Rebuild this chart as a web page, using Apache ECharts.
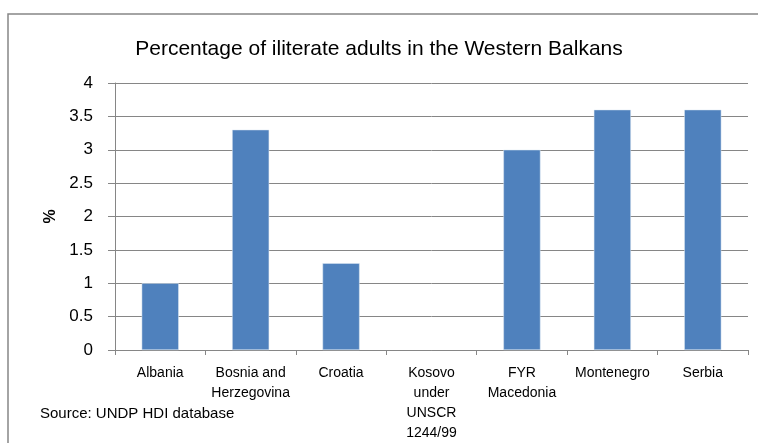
<!DOCTYPE html>
<html>
<head>
<meta charset="utf-8">
<script src="https://cdn.jsdelivr.net/npm/echarts@6/dist/echarts.min.js"></script>
<style>
  html, body { margin: 0; padding: 0; background: #fff; }
  #chart { width: 758px; height: 443px; }
</style>
</head>
<body>
<div id="chart"></div>
<script>
// Adult illiteracy rates, Western Balkans (UNDP HDI)
const categories = ['Albania', 'Bosnia and\nHerzegovina', 'Croatia', 'Kosovo\nunder\nUNSCR\n1244/99', 'FYR\nMacedonia', 'Montenegro', 'Serbia'];
const illiteracy = [1.0, 3.3, 1.3, null, 3.0, 3.6, 3.6];
const yTicks = { min: 0, max: 4, interval: 0.5 };

const FONT = 'Liberation Sans';
const chart = echarts.init(document.getElementById('chart'));
chart.setOption({
  animation: false,
  backgroundColor: '#fff',
  title: {
    text: 'Percentage of iliterate adults in the Western Balkans',
    left: 'center',
    top: 34,
    textStyle: { fontFamily: FONT, fontSize: 21, fontWeight: 'normal', color: '#000' }
  },
  graphic: [
    {
      type: 'rect',
      shape: { x: 8, y: 14, width: 800, height: 500 },
      style: { fill: 'none', stroke: '#868686', lineWidth: 1.5 }
    },
    {
      type: 'text',
      left: 40,
      top: 406,
      style: { text: 'Source: UNDP HDI database', font: '15px "' + FONT + '"', fill: '#000' }
    }
  ],
  grid: { left: 115, right: 10, top: 83, bottom: 93, containLabel: false },
  xAxis: {
    type: 'category',
    data: categories,
    axisLine: { lineStyle: { color: '#868686' } },
    axisTick: { show: true, length: 5, lineStyle: { color: '#868686' } },
    axisLabel: { fontFamily: FONT, fontSize: 14, color: '#000', margin: 13, lineHeight: 20, interval: 0 }
  },
  yAxis: {
    type: 'value',
    min: yTicks.min,
    max: yTicks.max,
    interval: yTicks.interval,
    name: '%',
    nameLocation: 'middle',
    nameGap: 55,
    nameRotate: 90,
    nameTextStyle: { fontFamily: FONT, fontSize: 16, fontWeight: 'bold', color: '#000' },
    axisLine: { show: true, lineStyle: { color: '#868686' } },
    axisTick: { show: true, length: 7, lineStyle: { color: '#868686' } },
    axisLabel: { fontFamily: FONT, fontSize: 17, color: '#000', margin: 22 },
    splitLine: { lineStyle: { color: '#868686' } }
  },
  series: [{
    type: 'bar',
    data: illiteracy,
    barWidth: '41%',
    itemStyle: { color: '#4F81BD', borderColor: '#dfe8f3', borderWidth: 0.5 }
  }]
});
</script>
</body>
</html>
